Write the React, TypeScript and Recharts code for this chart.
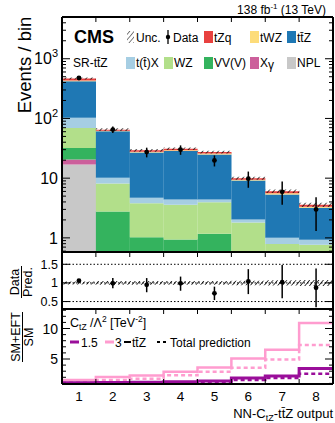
import React from "react";
import { ComposedChart, Bar, Line, XAxis, YAxis, ErrorBar, ReferenceLine } from "recharts";

const FONT = "'Liberation Sans', Arial, Helvetica, sans-serif";

const bins = [1, 2, 3, 4, 5, 6, 7, 8];
const binEdges = [0.5, 1.5, 2.5, 3.5, 4.5, 5.5, 6.5, 7.5, 8.5];
const innerEdges = [1.5, 2.5, 3.5, 4.5, 5.5, 6.5, 7.5];

// predicted yields per bin, stacked from the bottom up
const npl = [17, 0, 0, 0, 0, 0, 0, 0];
const xgamma = [3.6, 0, 0, 0, 0, 0, 0, 0];
const vvv = [11.4, 2.76, 1.02, 0.94, 1.17, 0.4, 0.3, 0.3];
const wz = [37, 5.4, 2.78, 2.66, 2.79, 1.41, 0.49, 0.47];
const ttx = [34, 2.0, 0.9, 0.8, 0.44, 0.22, 0.21, 0.16];
const ttz = [317, 50.6, 22.3, 24.0, 20.6, 7.12, 4.33, 2.26];
const twz = [12, 1.6, 0.8, 0.9, 0.8, 0.3, 0.25, 0.14];
const tzq = [34, 2.6, 1.4, 1.8, 1.5, 0.55, 0.47, 0.25];

// relative uncertainty of the prediction
const uncRel = [0.04, 0.05, 0.05, 0.05, 0.05, 0.06, 0.07, 0.08];

// observed data
const dataObs = [476, 65, 27.3, 30, 19.8, 9.8, 5.9, 3.0];
const dataErrLo = [21, 8, 5.0, 5.4, 4.1, 2.9, 2.3, 1.7];
const dataErrHi = [22, 8.5, 5.1, 5.4, 4.2, 3.1, 2.9, 1.8];

// data / prediction
const ratioVal = [1.06, 0.99, 0.95, 0.99, 0.72, 1.04, 1.02, 0.87];
const ratioErrLo = [0.03, 0.13, 0.2, 0.2, 0.18, 0.34, 0.43, 0.52];
const ratioErrHi = [0.03, 0.14, 0.18, 0.18, 0.18, 0.33, 0.46, 0.52];

// (SM+EFT)/SM for C_tZ/Λ² = 1.5 and 3
const eft15Ttz = [1.1, 1.15, 1.2, 1.25, 1.38, 1.9, 2.2, 3.45];
const eft15Total = [1.0, 1.0, 1.05, 1.1, 1.2, 1.55, 1.9, 2.6];
const eft3Ttz = [1.55, 2.05, 2.3, 2.9, 3.6, 5.1, 6.5, 10.9];
const eft3Total = [1.2, 1.55, 1.77, 2.33, 2.9, 3.55, 4.9, 7.3];

const topMajor = [1, 10, 100, 1000];
const topMinor = [0.6, 0.7, 0.8, 0.9, 2, 3, 4, 5, 6, 7, 8, 9, 20, 30, 40, 50, 60, 70, 80, 90,
  200, 300, 400, 500, 600, 700, 800, 900, 2000, 3000, 4000, 5000];
const ratioMajor = [0.5, 1, 1.5];
const eftMajor = [5, 10];
const eftMinor = [1, 2, 3, 4, 6, 7, 8, 9, 11, 12, 13];

const stackSeries = [
  { key: "npl", color: "#c8c8c8" },
  { key: "xgamma", color: "#cc5f9b" },
  { key: "vvv", color: "#34b35e" },
  { key: "wz", color: "#b2df8a" },
  { key: "ttx", color: "#a6cee3" },
  { key: "ttz", color: "#1f78b4" },
  { key: "twz", color: "#fddc7a" },
  { key: "tzq", color: "#e8413f" },
];

const PURPLE = "#9a0e9a";
const PINK = "#ff9ccf";

const topRows = bins.map((bin, i) => {
  const total = npl[i] + xgamma[i] + vvv[i] + wz[i] + ttx[i] + ttz[i] + twz[i] + tzq[i];
  return {
    bin,
    npl: npl[i], xgamma: xgamma[i], vvv: vvv[i], wz: wz[i],
    ttx: ttx[i], ttz: ttz[i], twz: twz[i], tzq: tzq[i],
    unc: [total * (1 - uncRel[i]), total * (1 + uncRel[i])],
    obs: dataObs[i],
    obsErr: [dataErrLo[i], dataErrHi[i]],
  };
});

const ratioRows = bins.map((bin, i) => ({
  bin,
  unc: [1 - uncRel[i], 1 + uncRel[i]],
  r: ratioVal[i],
  rErr: [ratioErrLo[i], ratioErrHi[i]],
}));

// step histogram: one row per bin edge, last bin repeated to close it
const eftRows = binEdges.map((edge, j) => {
  const i = Math.min(j, bins.length - 1);
  return { edge, a: eft15Ttz[i], b: eft15Total[i], c: eft3Ttz[i], d: eft3Total[i] };
});

const topLabels: Record<number, React.ReactNode> = {
  1: "1",
  10: "10",
  100: <>10<tspan dy={-7} fontSize={11}>2</tspan></>,
  1000: <>10<tspan dy={-7} fontSize={11}>3</tspan></>,
};

const leftTick = (majors: number[], labels: (v: number) => React.ReactNode, fontSize: number) =>
  (p: any) => {
    const { x, y, payload } = p;
    const major = majors.includes(payload.value);
    return (
      <g>
        <line x1={x} x2={x + (major ? 8 : 4)} y1={y} y2={y} stroke="#000" strokeWidth={1} />
        {major && (
          <text x={x - 4} y={y} dy="0.36em" textAnchor="end" fontSize={fontSize} fontFamily={FONT} fill="#000">
            {labels(payload.value)}
          </text>
        )}
      </g>
    );
  };

const rightTick = (majors: number[]) => (p: any) => {
  const { x, y, payload } = p;
  const major = majors.includes(payload.value);
  return <line x1={x} x2={x - (major ? 8 : 4)} y1={y} y2={y} stroke="#000" strokeWidth={1} />;
};

const topEdgeTick = (p: any) => <line x1={p.x} x2={p.x} y1={p.y} y2={p.y + 5} stroke="#000" strokeWidth={1} />;
const bottomEdgeTick = (p: any) => <line x1={p.x} x2={p.x} y1={p.y} y2={p.y - 5} stroke="#000" strokeWidth={1} />;

const bottomLabelTick = (p: any) => {
  const { x, y, payload } = p;
  if (Number.isInteger(payload.value)) {
    return (
      <text x={x} y={y + 17} textAnchor="middle" fontSize={13.5} fontFamily={FONT} fill="#000">
        {payload.value}
      </text>
    );
  }
  return <line x1={x} x2={x} y1={y} y2={y - 5} stroke="#000" strokeWidth={1} />;
};

const frameLine = { stroke: "#000", strokeWidth: 2 };

function TopPanel() {
  return (
    <ComposedChart width={335} height={253} data={topRows} margin={{ top: 16, right: 0, bottom: 0, left: 0 }}
      barCategoryGap={0} barGap={0}>
      <defs>
        <pattern id="hatchTop" width="4" height="4" patternUnits="userSpaceOnUse" patternTransform="rotate(40)">
          <line x1="0" y1="0" x2="0" y2="4" stroke="#000" strokeWidth="1.4" />
        </pattern>
      </defs>
      <XAxis xAxisId="cat" dataKey="bin" type="category" hide />
      <XAxis xAxisId="unc" dataKey="bin" type="category" hide />
      <XAxis xAxisId="edge" dataKey="bin" type="number" domain={[0.5, 8.5]} allowDataOverflow
        ticks={innerEdges} interval={0} tickSize={0} tickMargin={0} tickLine={false}
        tick={bottomEdgeTick} height={1} axisLine={frameLine} />
      <XAxis xAxisId="edgeTop" orientation="top" dataKey="bin" type="number" domain={[0.5, 8.5]} allowDataOverflow
        ticks={innerEdges} interval={0} tickSize={0} tickMargin={0} tickLine={false}
        tick={topEdgeTick} height={1} axisLine={frameLine} />
      <YAxis yAxisId="main" scale="log" type="number" domain={[0.58, 5000]} allowDataOverflow
        ticks={[...topMajor, ...topMinor]} interval={0} tickSize={0} tickMargin={0} tickLine={false}
        tick={leftTick(topMajor, (v) => topLabels[v], 16)} width={62} axisLine={frameLine} />
      <YAxis yAxisId="right" orientation="right" scale="log" type="number" domain={[0.58, 5000]} allowDataOverflow
        ticks={[...topMajor, ...topMinor]} interval={0} tickSize={0} tickMargin={0} tickLine={false}
        tick={rightTick(topMajor)} width={2} axisLine={frameLine} />
      {stackSeries.map((s) => (
        <Bar key={s.key} dataKey={s.key} stackId="bkg" xAxisId="cat" yAxisId="main" fill={s.color}
          isAnimationActive={false} />
      ))}
      <Bar dataKey="unc" xAxisId="unc" yAxisId="main" fill="url(#hatchTop)" isAnimationActive={false} />
      <Line dataKey="obs" xAxisId="cat" yAxisId="main" stroke="none" isAnimationActive={false}
        dot={{ r: 2.4, fill: "#000", stroke: "none" }} activeDot={false}>
        <ErrorBar dataKey="obsErr" direction="y" width={0} stroke="#000" strokeWidth={1.5} isAnimationActive={false} />
      </Line>
    </ComposedChart>
  );
}

function RatioPanel() {
  return (
    <ComposedChart width={335} height={59} data={ratioRows} margin={{ top: 0, right: 0, bottom: 0, left: 0 }}
      barCategoryGap={0} barGap={0}>
      <defs>
        <pattern id="hatchRatio" width="3.5" height="3.5" patternUnits="userSpaceOnUse" patternTransform="rotate(40)">
          <line x1="0" y1="0" x2="0" y2="3.5" stroke="#000" strokeWidth="1.5" />
        </pattern>
      </defs>
      <XAxis xAxisId="cat" dataKey="bin" type="category" hide />
      <XAxis xAxisId="edge" dataKey="bin" type="number" domain={[0.5, 8.5]} allowDataOverflow
        ticks={innerEdges} interval={0} tickSize={0} tickMargin={0} tickLine={false}
        tick={bottomEdgeTick} height={1} axisLine={frameLine} />
      <XAxis xAxisId="edgeTop" orientation="top" dataKey="bin" type="number" domain={[0.5, 8.5]} allowDataOverflow
        ticks={innerEdges} interval={0} tickSize={0} tickMargin={0} tickLine={false}
        tick={topEdgeTick} height={1} axisLine={frameLine} />
      <YAxis yAxisId="main" type="number" domain={[0.3, 1.83]} allowDataOverflow
        ticks={ratioMajor} interval={0} tickSize={0} tickMargin={0} tickLine={false}
        tick={leftTick(ratioMajor, (v) => String(v), 12.5)} width={62} axisLine={frameLine} />
      <YAxis yAxisId="right" orientation="right" type="number" domain={[0.3, 1.83]} allowDataOverflow
        ticks={ratioMajor} interval={0} tickSize={0} tickMargin={0} tickLine={false}
        tick={rightTick(ratioMajor)} width={2} axisLine={frameLine} />
      {ratioMajor.map((v) => (
        <ReferenceLine key={v} y={v} xAxisId="cat" yAxisId="main" stroke="#000" strokeWidth={1}
          strokeDasharray="1.5 2" />
      ))}
      <Bar dataKey="unc" xAxisId="cat" yAxisId="main" fill="url(#hatchRatio)" isAnimationActive={false} />
      <Line dataKey="r" xAxisId="cat" yAxisId="main" stroke="none" isAnimationActive={false}
        dot={{ r: 2.4, fill: "#000", stroke: "none" }} activeDot={false}>
        <ErrorBar dataKey="rErr" direction="y" width={0} stroke="#000" strokeWidth={1.5} isAnimationActive={false} />
      </Line>
    </ComposedChart>
  );
}

function EftPanel() {
  return (
    <ComposedChart width={335} height={115} data={eftRows} margin={{ top: 0, right: 0, bottom: 0, left: 0 }}>
      <XAxis xAxisId="x" dataKey="edge" type="number" domain={[0.5, 8.5]} allowDataOverflow
        ticks={[1, 1.5, 2, 2.5, 3, 3.5, 4, 4.5, 5, 5.5, 6, 6.5, 7, 7.5, 8]} interval={0}
        tickSize={0} tickMargin={0} tickLine={false} tick={bottomLabelTick} height={39} axisLine={frameLine} />
      <XAxis xAxisId="top" orientation="top" dataKey="edge" type="number" domain={[0.5, 8.5]} allowDataOverflow
        ticks={innerEdges} interval={0} tickSize={0} tickMargin={0} tickLine={false}
        tick={topEdgeTick} height={1} axisLine={frameLine} />
      <YAxis yAxisId="main" type="number" domain={[0.9, 13.2]} allowDataOverflow
        ticks={[...eftMajor, ...eftMinor]} interval={0} tickSize={0} tickMargin={0} tickLine={false}
        tick={leftTick(eftMajor, (v) => String(v), 14)} width={62} axisLine={frameLine} />
      <YAxis yAxisId="right" orientation="right" type="number" domain={[0.9, 13.2]} allowDataOverflow
        ticks={[...eftMajor, ...eftMinor]} interval={0} tickSize={0} tickMargin={0} tickLine={false}
        tick={rightTick(eftMajor)} width={2} axisLine={frameLine} />
      <Line dataKey="d" type="stepAfter" xAxisId="x" yAxisId="main" stroke={PINK} strokeWidth={2.5}
        strokeDasharray="4 3" dot={false} activeDot={false} isAnimationActive={false} />
      <Line dataKey="c" type="stepAfter" xAxisId="x" yAxisId="main" stroke={PINK} strokeWidth={2.5}
        dot={false} activeDot={false} isAnimationActive={false} />
      <Line dataKey="b" type="stepAfter" xAxisId="x" yAxisId="main" stroke={PURPLE} strokeWidth={2.5}
        strokeDasharray="4 3" dot={false} activeDot={false} isAnimationActive={false} />
      <Line dataKey="a" type="stepAfter" xAxisId="x" yAxisId="main" stroke={PURPLE} strokeWidth={3}
        dot={false} activeDot={false} isAnimationActive={false} />
    </ComposedChart>
  );
}

const legendRow1 = [
  { label: "tZq", color: "#e8413f", x: 204 },
  { label: "tWZ", color: "#fddc7a", x: 250 },
  { label: "tt\u0304Z", color: "#1f78b4", x: 287 },
];
const legendRow2 = [
  { label: "t(t\u0304)X", color: "#a6cee3", x: 126 },
  { label: "WZ", color: "#b2df8a", x: 164 },
  { label: "VV(V)", color: "#34b35e", x: 204 },
  { label: "X\u03b3", color: "#cc5f9b", x: 250 },
  { label: "NPL", color: "#c8c8c8", x: 287 },
];

function Overlay() {
  const t = { fontFamily: FONT, fill: "#000" };
  return (
    <svg width={335} height={423} style={{ position: "absolute", left: 0, top: 0, pointerEvents: "none" }}>
      <defs>
        <pattern id="hatchIcon" width="3.5" height="3.5" patternUnits="userSpaceOnUse" patternTransform="rotate(40)">
          <line x1="0" y1="0" x2="0" y2="3.5" stroke="#000" strokeWidth="1" />
        </pattern>
      </defs>
      <text x={326} y={14} textAnchor="end" fontSize={12} {...t}>
        138 fb<tspan dy={-5} fontSize={8}>-1</tspan><tspan dy={5}> (13 TeV)</tspan>
      </text>
      <text transform="translate(31,65) rotate(-90)" textAnchor="middle" fontSize={18.5} {...t}>Events / bin</text>
      <text x={74} y={43} fontSize={18} fontWeight="bold" {...t}>CMS</text>
      <text x={73} y={67} fontSize={12} {...t}>SR-tt{"\u0304"}Z</text>

      <rect x={127} y={31} width={7} height={12} fill="url(#hatchIcon)" />
      <text x={136} y={42} fontSize={12} {...t}>Unc.</text>
      <line x1={168} x2={168} y1={30} y2={44} stroke="#000" strokeWidth={1.3} />
      <circle cx={168} cy={37} r={2.2} fill="#000" />
      <text x={173} y={42} fontSize={12} {...t}>Data</text>
      {legendRow1.map((e) => (
        <g key={e.label}>
          <rect x={e.x} y={31} width={9} height={12} fill={e.color} />
          <text x={e.x + 10} y={42} fontSize={12} {...t}>{e.label}</text>
        </g>
      ))}
      {legendRow2.map((e) => (
        <g key={e.label}>
          <rect x={e.x} y={57} width={9} height={12} fill={e.color} />
          <text x={e.x + 10} y={67} fontSize={12} {...t}>
            {e.label === "X\u03b3" ? <>X<tspan dy={2}>{"\u03b3"}</tspan></> : e.label}
          </text>
        </g>
      ))}

      <text transform="translate(19,282) rotate(-90)" textAnchor="middle" fontSize={12.5} {...t}>Data</text>
      <line x1={21.5} x2={21.5} y1={266} y2={298} stroke="#000" strokeWidth={1} />
      <text transform="translate(31.5,282) rotate(-90)" textAnchor="middle" fontSize={12.5} {...t}>Pred.</text>

      <text transform="translate(20,337) rotate(-90)" textAnchor="middle" fontSize={12.5} {...t}>SM+EFT</text>
      <line x1={22.5} x2={22.5} y1={312} y2={362} stroke="#000" strokeWidth={1} />
      <text transform="translate(33,337) rotate(-90)" textAnchor="middle" fontSize={12.5} {...t}>SM</text>

      <text x={70} y={327} fontSize={12.5} {...t}>
        C<tspan dy={3} fontSize={8.5}>tZ</tspan><tspan dy={-3}> /{"\u039b"}</tspan>
        <tspan dy={-5} fontSize={8.5}>2</tspan><tspan dy={5}> [TeV</tspan>
        <tspan dy={-5} fontSize={8.5}>-2</tspan><tspan dy={5}>]</tspan>
      </text>
      <line x1={70} x2={79} y1={342} y2={342} stroke={PURPLE} strokeWidth={3} />
      <text x={81} y={347} fontSize={12} {...t}>1.5</text>
      <line x1={105} x2={114} y1={342} y2={342} stroke={PINK} strokeWidth={3} />
      <text x={115} y={347} fontSize={12} {...t}>3</text>
      <line x1={124} x2={131} y1={342} y2={342} stroke="#000" strokeWidth={2} />
      <text x={132} y={347} fontSize={12} {...t}>tt{"\u0304"}Z</text>
      <line x1={157} x2={167} y1={342} y2={342} stroke="#000" strokeWidth={2} strokeDasharray="3 3" />
      <text x={170} y={347} fontSize={12} {...t}>Total prediction</text>

      <text x={333} y={418} textAnchor="end" fontSize={13} {...t}>
        NN-C<tspan dy={3} fontSize={9}>tZ</tspan><tspan dy={-3}>-tt{"\u0304"}Z output</tspan>
      </text>
    </svg>
  );
}

export default function App() {
  return (
    <div style={{ position: "absolute", left: 0, top: 0, width: 335, height: 423, background: "#fff" }}>
      <div style={{ position: "absolute", left: 0, top: 0 }}><TopPanel /></div>
      <div style={{ position: "absolute", left: 0, top: 251 }}><RatioPanel /></div>
      <div style={{ position: "absolute", left: 0, top: 308 }}><EftPanel /></div>
      <Overlay />
    </div>
  );
}
